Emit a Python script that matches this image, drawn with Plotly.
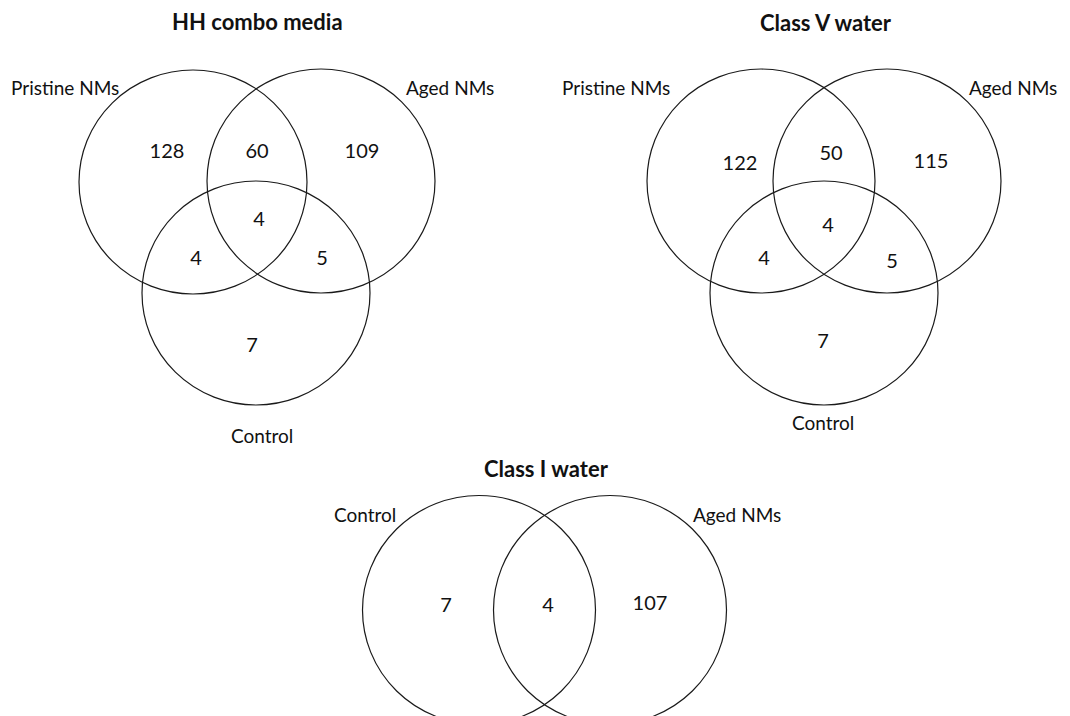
import plotly.graph_objects as go

# ---------------- data ----------------
titles = ["HH combo media", "Class V water", "Class I water"]

hh_sets = ["Pristine NMs", "Aged NMs", "Control"]
# regions: P only, A only, C only, P&A, P&C, A&C, P&A&C
hh_counts = [128, 109, 7, 60, 4, 5, 4]

cv_sets = ["Pristine NMs", "Aged NMs", "Control"]
cv_counts = [122, 115, 7, 50, 4, 5, 4]

c1_sets = ["Control", "Aged NMs"]
# regions: Control only, Aged only, both
c1_counts = [7, 107, 4]

# ---------------- layout geometry (page pixels) ----------------
W, H = 1070, 716
OFF = 8  # page body margin offset
FONT = "Lato"
LINE = dict(color="#1a1a1a", width=1.2)

venn_geom = [
    dict(  # HH combo media
        title_xy=(257, 21),
        circles=[(193, 182, 114, 112), (321, 181, 114, 112), (256, 293, 114, 112)],
        label_xy=[(65, 87), (450, 87), (262, 435)],
        count_xy=[(167, 153), (362, 153), (252, 347), (257, 153), (196, 260), (322, 260), (259, 221)],
    ),
    dict(  # Class V water
        title_xy=(826, 22),
        circles=[(761, 181, 114, 112), (887, 181, 114, 112), (824, 293, 114, 112)],
        label_xy=[(616, 87), (1013, 87), (823, 422)],
        count_xy=[(740, 165), (931, 163), (823, 343), (831, 155), (764, 260), (892, 263), (828, 227)],
    ),
    dict(  # Class I water
        title_xy=(546, 468),
        circles=[(479, 610, 116.5, 114.5), (610, 610, 116.5, 114.5)],
        label_xy=[(365, 514), (737, 514)],
        count_xy=[(446, 607), (650, 605), (548, 607)],
    ),
]

all_sets = [hh_sets, cv_sets, c1_sets]
all_counts = [hh_counts, cv_counts, c1_counts]

fig = go.Figure()
shapes = []
annotations = []

for title, sets, counts, g in zip(titles, all_sets, all_counts, venn_geom):
    for (cx, cy, rx, ry) in g["circles"]:
        shapes.append(dict(type="circle", xref="x", yref="y",
                           x0=cx - rx, x1=cx + rx, y0=cy - ry, y1=cy + ry,
                           line=LINE, fillcolor="rgba(0,0,0,0)", layer="above"))
    annotations.append(dict(x=g["title_xy"][0], y=g["title_xy"][1], xref="x", yref="y",
                            text="<b>%s</b>" % title, showarrow=False,
                            font=dict(family=FONT, size=22, color="#111"),
                            xanchor="center", yanchor="middle"))
    for name, (lx, ly) in zip(sets, g["label_xy"]):
        annotations.append(dict(x=lx, y=ly, xref="x", yref="y", text=name,
                                showarrow=False,
                                font=dict(family=FONT, size=19, color="#111"),
                                xanchor="center", yanchor="middle"))
    fig.add_trace(go.Scatter(
        x=[p[0] for p in g["count_xy"]],
        y=[p[1] for p in g["count_xy"]],
        text=[str(c) for c in counts],
        mode="text",
        textposition="middle center",
        textfont=dict(family=FONT, size=20, color="#111"),
        hoverinfo="text",
        showlegend=False,
    ))

fig.update_layout(
    width=W, height=H,
    margin=dict(l=0, r=0, t=0, b=0),
    paper_bgcolor="white", plot_bgcolor="white",
    shapes=shapes, annotations=annotations,
    xaxis=dict(range=[OFF, W + OFF], visible=False, fixedrange=True),
    yaxis=dict(range=[H + OFF, OFF], visible=False, fixedrange=True),
    showlegend=False,
)

fig.write_html("out.html")
